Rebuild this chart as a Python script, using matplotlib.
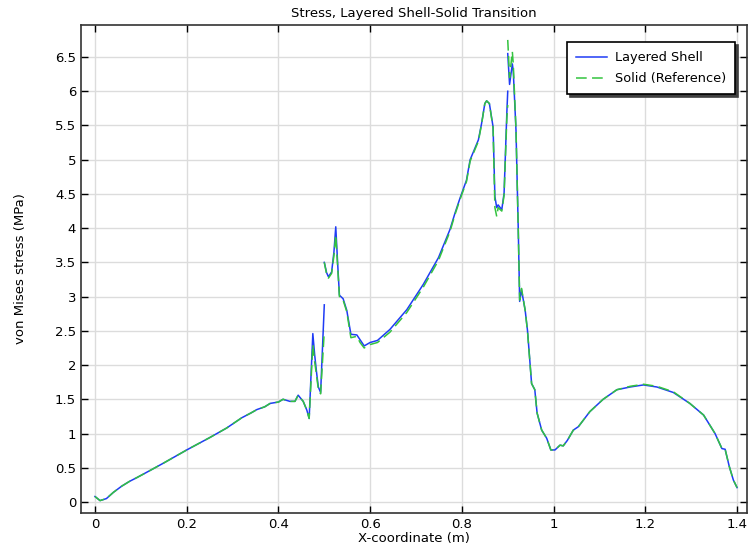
import matplotlib.pyplot as plt
from matplotlib.ticker import FormatStrFormatter, MultipleLocator

# segment 1: x from 0 to 0.5
x1 = [0, 0.011, 0.025, 0.04, 0.058, 0.075, 0.091, 0.12, 0.15, 0.2, 0.25, 0.287,
      0.32, 0.34, 0.353, 0.37, 0.382, 0.4, 0.41, 0.425, 0.436, 0.443, 0.454,
      0.462, 0.467, 0.475, 0.479, 0.483, 0.487, 0.492, 0.5]
shell1 = [0.08, 0.02, 0.05, 0.14, 0.23, 0.30, 0.355, 0.46, 0.57, 0.76, 0.94, 1.08,
          1.23, 1.30, 1.35, 1.39, 1.44, 1.46, 1.50, 1.47, 1.47, 1.56, 1.47,
          1.34, 1.22, 2.46, 2.15, 1.90, 1.68, 1.60, 2.88]
solid1 = [0.08, 0.02, 0.05, 0.14, 0.23, 0.30, 0.355, 0.46, 0.57, 0.76, 0.94, 1.08,
          1.23, 1.30, 1.35, 1.39, 1.44, 1.46, 1.50, 1.47, 1.47, 1.56, 1.47,
          1.34, 1.22, 2.30, 2.05, 1.85, 1.65, 1.58, 2.50]

# segment 2: x from 0.5 to 0.9
x2 = [0.5, 0.505, 0.509, 0.516, 0.521, 0.525, 0.529, 0.533, 0.541, 0.549, 0.558,
      0.571, 0.578, 0.587, 0.6, 0.616, 0.643, 0.68, 0.716, 0.749, 0.774, 0.785,
      0.796, 0.81, 0.818, 0.836, 0.843, 0.85, 0.854, 0.86, 0.868, 0.872, 0.876,
      0.879, 0.887, 0.892, 0.898, 0.9]
shell2 = [3.50, 3.35, 3.29, 3.36, 3.65, 4.02, 3.50, 3.02, 2.97, 2.80, 2.45,
          2.44, 2.37, 2.28, 2.33, 2.36, 2.52, 2.81, 3.18, 3.57, 3.98, 4.22,
          4.44, 4.70, 5.00, 5.29, 5.53, 5.82, 5.86, 5.82, 5.48, 4.46, 4.30,
          4.34, 4.27, 4.51, 5.68, 6.00]
solid2 = [3.50, 3.33, 3.27, 3.34, 3.60, 3.90, 3.45, 3.00, 2.95, 2.78, 2.40,
          2.42, 2.33, 2.25, 2.30, 2.33, 2.48, 2.77, 3.14, 3.53, 3.95, 4.20,
          4.42, 4.68, 4.98, 5.27, 5.52, 5.82, 5.86, 5.82, 5.46, 4.30, 4.17,
          4.30, 4.25, 4.48, 5.60, 5.80]

# segment 3: x from 0.9 to 1.4
x3 = [0.9, 0.904, 0.91, 0.912, 0.918, 0.923, 0.926, 0.93, 0.938, 0.943, 0.952,
      0.959, 0.964, 0.974, 0.985, 0.994, 1.003, 1.014, 1.021, 1.03, 1.043,
      1.054, 1.079, 1.108, 1.138, 1.167, 1.196, 1.225, 1.261, 1.297, 1.327,
      1.352, 1.367, 1.374, 1.383, 1.392, 1.4]
shell3 = [6.55, 6.10, 6.40, 6.30, 5.43, 3.97, 2.93, 3.10, 2.80, 2.51, 1.73,
          1.64, 1.30, 1.05, 0.93, 0.76, 0.76, 0.83, 0.82, 0.90, 1.05,
          1.10, 1.32, 1.50, 1.64, 1.68, 1.71, 1.68, 1.60, 1.44, 1.27,
          1.00, 0.78, 0.77, 0.52, 0.32, 0.21]
solid3 = [6.75, 6.20, 6.58, 6.40, 5.45, 3.95, 2.95, 3.12, 2.80, 2.50, 1.73,
          1.64, 1.30, 1.05, 0.93, 0.76, 0.76, 0.83, 0.82, 0.90, 1.05,
          1.10, 1.32, 1.50, 1.64, 1.69, 1.72, 1.69, 1.61, 1.44, 1.27,
          1.00, 0.78, 0.77, 0.52, 0.32, 0.21]

segments = [(x1, shell1, solid1), (x2, shell2, solid2), (x3, shell3, solid3)]

blue = "#1f3cf5"
green = "#33c33f"

plt.rcParams["font.family"] = "DejaVu Sans"
plt.rcParams["font.size"] = 9

fig = plt.figure(figsize=(7.48, 5.51), dpi=100)
ax = fig.add_axes([81 / 748, 38 / 551, 666 / 748, 488 / 551])

for i, (xs, sh, so) in enumerate(segments):
    ax.plot(xs, sh, color=blue, lw=1.1, label="Layered Shell" if i == 0 else None)
for i, (xs, sh, so) in enumerate(segments):
    ax.plot(xs, so, color=green, lw=1.1, dashes=(7, 3.5),
            label="Solid (Reference)" if i == 0 else None)

ax.set_xlim(-0.0305, 1.4217)
ax.set_ylim(-0.161, 6.968)
ax.xaxis.set_major_locator(MultipleLocator(0.2))
ax.yaxis.set_major_locator(MultipleLocator(0.5))
ax.xaxis.set_major_formatter(FormatStrFormatter("%g"))
ax.yaxis.set_major_formatter(FormatStrFormatter("%g"))
ax.tick_params(direction="in", length=5, width=1, top=True, right=True, labelsize=9.5)
ax.grid(True, color="#dcdcdc", lw=1)
ax.set_axisbelow(True)
for s in ax.spines.values():
    s.set_linewidth(1.2)
    s.set_color("#333333")

ax.set_title("Stress, Layered Shell-Solid Transition", fontsize=9.5, pad=6)
ax.set_xlabel("X-coordinate (m)", fontsize=9.5, labelpad=1)
ax.set_ylabel("von Mises stress (MPa)", fontsize=9.5, labelpad=20)

leg = ax.legend(loc="upper right", bbox_to_anchor=(1 - 12 / 666, 1 - 17 / 488),
                borderaxespad=0, fancybox=False, shadow={"color": "0.25", "alpha": 1},
                edgecolor="black", framealpha=1, handlelength=2.4, borderpad=0.7,
                handletextpad=0.6, labelspacing=0.65, fontsize=9.3)
leg.get_frame().set_linewidth(1.2)

fig.savefig("out.png", dpi=100)
